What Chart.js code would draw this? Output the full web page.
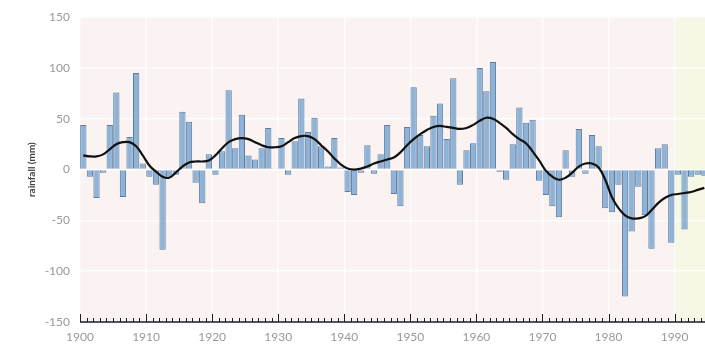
<!DOCTYPE html>
<html>
<head>
<meta charset="utf-8">
<script src="https://cdn.jsdelivr.net/npm/chart.js@4/dist/chart.umd.min.js"></script>
<style>
  html, body { margin: 0; padding: 0; background: #fff; }
  #wrap { width: 705px; height: 348px; }
</style>
</head>
<body>
<div id="wrap"><canvas id="rainChart"></canvas></div>
<script>
// years 1900-1994
const years = [];
for (let y = 1900; y <= 1994; y++) years.push(y);

// yearly rainfall anomaly (mm)
const rainfall = [
  44, -7, -28, -3, 44, 76, -27, 32, 95, 6,
  -7, -15, -79, -8, -5, 57, 47, -13, -33, 15,
  -5, 18, 78, 21, 54, 14, 10, 21, 41, 1,
  31, -5, 28, 70, 37, 51, 23, 3, 31, 2,
  -22, -25, -3, 24, -4, 15, 44, -24, -36, 42,
  81, 34, 23, 53, 65, 30, 90, -15, 19, 26,
  100, 77, 106, -2, -10, 25, 61, 46, 49, -11,
  -25, -36, -47, 19, -7, 40, -4, 34, 23, -38,
  -42, -15, -125, -61, -17, -45, -78, 21, 25, -72,
  -5, -59, -7, -5, -6
];

// smoothed curve
const smoothed = [
  14, 13, 13, 15, 20, 25, 27, 27, 23, 14,
  4, -2, -7, -8, -3, 3, 7, 8, 8, 9,
  14, 21, 27, 30, 31, 30, 27, 24, 22, 22,
  23, 27, 31, 33, 33, 30, 24, 18, 11, 5,
  1, 0, 1, 3, 6, 8, 10, 12, 17, 24,
  30, 35, 39, 42, 43, 42, 41, 40, 41, 44,
  48, 51, 50, 46, 41, 35, 30, 26, 18, 9,
  -1, -7, -10, -8, -3, 3, 6, 6, 2, -10,
  -27, -38, -45, -48, -48, -46, -40, -33, -28, -25,
  -24, -23, -22, -20, -18
];

const yTicks = [-150, -100, -50, 0, 50, 100, 150];
const decadeLabels = [1900, 1910, 1920, 1930, 1940, 1950, 1960, 1970, 1980, 1990];
const shadeFrom = 1990;

const labelFont = { family: 'Lato', size: 12 };

// pink paper, yellowish strip after 1990, and the inward axis ticks
const paperPlugin = {
  id: 'paper',
  beforeDraw(chart) {
    const { ctx, chartArea: a, scales: { x } } = chart;
    ctx.save();
    ctx.fillStyle = '#faf3f2';
    ctx.fillRect(a.left, a.top, a.right - a.left, a.bottom - a.top);
    const xs = x.getPixelForValue(shadeFrom);
    ctx.fillStyle = '#f7f7e6';
    ctx.fillRect(xs, a.top, a.right - xs, a.bottom - a.top);
    ctx.restore();
  },
  afterDraw(chart) {
    const { ctx, chartArea: a, scales: { x } } = chart;
    ctx.save();
    ctx.strokeStyle = '#1a1a2a';
    ctx.lineWidth = 1.5;
    ctx.beginPath();
    ctx.moveTo(a.left, a.bottom);
    ctx.lineTo(a.right, a.bottom);
    ctx.stroke();
    ctx.lineWidth = 1;
    years.forEach(y => {
      const px = Math.round(x.getPixelForValue(y)) + 0.5;
      const len = decadeLabels.includes(y) ? 8 : 4;
      ctx.beginPath();
      ctx.moveTo(px, a.bottom);
      ctx.lineTo(px, a.bottom - len);
      ctx.stroke();
    });
    ctx.restore();
  }
};

const config = {
  data: {
    datasets: [{
      type: 'line',
      data: years.map((y, i) => ({ x: y + 0.5, y: smoothed[i] })),
      borderColor: '#111111',
      borderWidth: 2.2,
      pointRadius: 0,
      tension: 0.4,
      fill: false,
      order: 0
    }, {
      type: 'bar',
      data: years.map((y, i) => ({ x: y + 0.5, y: rainfall[i] })),
      backgroundColor: '#8db3d8',
      borderColor: '#5d7c9e',
      borderWidth: 1,
      barPercentage: 0.95,
      categoryPercentage: 1,
      order: 1
    }]
  },
  options: {
    responsive: true,
    maintainAspectRatio: false,
    animation: false,
    layout: { padding: { top: 15, right: 0, bottom: 0, left: 0 } },
    plugins: {
      legend: { display: false },
      tooltip: { enabled: false }
    },
    scales: {
      x: {
        type: 'linear',
        min: 1900,
        max: 1994.6,
        offset: false,
        grid: { offset: false, color: 'rgba(255,255,255,0.8)', lineWidth: 1.5, drawTicks: false },
        border: { display: false },
        afterBuildTicks: scale => { scale.ticks = decadeLabels.map(v => ({ value: v })); },
        afterFit: scale => { scale.height = 26; },
        ticks: {
          includeBounds: false,
          color: '#999999',
          font: labelFont,
          padding: 8,
          maxRotation: 0,
          callback: v => String(v)
        }
      },
      y: {
        min: -150,
        max: 150,
        grid: { color: 'rgba(255,255,255,0.8)', lineWidth: 1.5, drawTicks: false },
        border: { display: false },
        afterBuildTicks: scale => { scale.ticks = yTicks.map(v => ({ value: v })); },
        afterFit: scale => { scale.width = 80; },
        ticks: {
          color: '#999999',
          font: labelFont,
          padding: 10,
          callback: v => String(v)
        },
        title: {
          display: true,
          text: 'rainfall (mm)',
          color: '#444444',
          font: { family: 'Lato', size: 10, weight: 'bold' },
          padding: { top: 26, bottom: 0 }
        }
      }
    }
  },
  plugins: [paperPlugin]
};

const rainChart = new Chart(document.getElementById('rainChart').getContext('2d'), config);
</script>
</body>
</html>
